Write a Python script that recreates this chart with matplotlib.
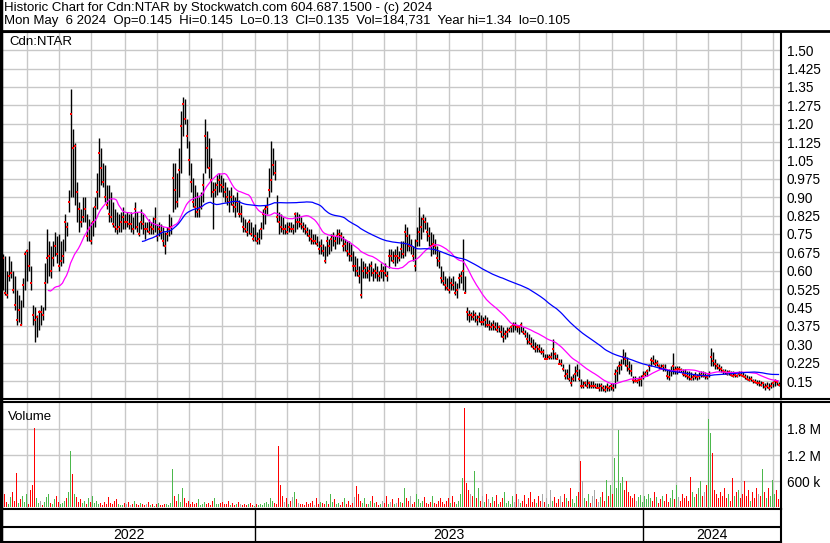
import numpy as np
import pandas as pd
import matplotlib
matplotlib.use("Agg")
import matplotlib.pyplot as plt
from matplotlib.lines import Line2D

plt.rcParams['font.family'] = ['Liberation Sans', 'DejaVu Sans']

# ---- data (one bar per session) ----
hi = [
    .67,.66,.60,.66,.64,.60,.58,.52,.50,.48,
    .57,.68,.69,.72,.62,.46,.45,.42,.44,.46,
    .45,.63,.77,.72,.70,.72,.76,.74,.75,.72,
    .73,.83,.80,.93,1.34,1.18,1.12,.96,.88,.85,
    .90,.90,.83,.81,.80,.86,.90,1.00,1.14,1.10,
    1.04,1.03,.95,.95,.92,.88,.85,.84,.83,.84,
    .86,.83,.84,.83,.84,.82,.88,.84,.80,.85,
    .83,.80,.80,.81,.80,.82,.86,.79,.80,.79,
    .78,.76,.78,.83,.82,1.04,1.04,1.00,1.10,1.25,
    1.31,1.30,1.22,1.13,1.04,.98,.95,.92,.90,.92,
    1.00,1.22,1.17,1.14,1.06,.96,.96,.99,1.00,.99,
    .98,.96,.94,.93,.94,.91,.90,.92,.89,.87,
    .82,.81,.80,.81,.80,.78,.79,.76,.77,.80,
    .85,.87,.90,1.02,1.13,1.10,1.05,.91,.84,.83,
    .82,.79,.80,.80,.80,.79,.84,.84,.83,.82,
    .80,.79,.78,.77,.77,.75,.75,.74,.72,.73,
    .71,.70,.74,.73,.75,.76,.74,.77,.77,.76,
    .74,.73,.72,.72,.71,.68,.66,.65,.62,.65,
    .64,.63,.62,.63,.64,.61,.63,.62,.60,.63,
    .62,.63,.60,.69,.69,.68,.69,.70,.68,.72,
    .72,.79,.78,.75,.73,.70,.73,.78,.86,.82,
    .83,.82,.80,.78,.76,.75,.73,.70,.68,.62,
    .60,.58,.57,.58,.57,.58,.56,.55,.59,.60,
    .73,.58,.45,.44,.43,.44,.43,.42,.43,.42,
    .41,.42,.41,.40,.39,.40,.39,.39,.38,.38,
    .37,.36,.37,.37,.38,.39,.39,.38,.38,.39,
    .37,.36,.35,.34,.33,.32,.31,.30,.30,.29,
    .28,.26,.26,.26,.27,.32,.27,.26,.24,.24,
    .22,.20,.20,.22,.17,.18,.21,.22,.20,.16,
    .15,.15,.16,.15,.15,.15,.14,.14,.14,.14,
    .135,.135,.14,.135,.14,.14,.20,.21,.23,.24,
    .28,.27,.25,.23,.22,.17,.17,.16,.17,.175,
    .19,.19,.20,.22,.25,.255,.24,.235,.22,.22,
    .22,.22,.20,.20,.21,.265,.21,.21,.21,.205,
    .20,.20,.19,.19,.185,.18,.185,.18,.185,.19,
    .19,.185,.18,.19,.285,.27,.24,.225,.22,.21,
    .20,.20,.195,.195,.19,.19,.185,.18,.19,.19,
    .185,.18,.175,.17,.17,.16,.16,.155,.155,.15,
    .145,.14,.145,.14,.145,.15,.16,.155,.145,
]
lo = [
    .52,.50,.49,.56,.57,.51,.44,.38,.39,.38,
    .45,.52,.56,.60,.52,.38,.31,.33,.36,.38,
    .40,.44,.55,.58,.57,.62,.66,.63,.60,.62,
    .63,.68,.74,.84,.90,.90,.87,.80,.76,.78,
    .80,.80,.72,.72,.71,.74,.78,.85,.90,.95,
    .94,.88,.85,.80,.80,.78,.76,.75,.76,.76,
    .77,.77,.78,.77,.76,.75,.77,.76,.74,.77,
    .75,.73,.76,.75,.75,.75,.76,.72,.74,.73,
    .70,.67,.72,.74,.75,.84,.85,.86,.90,1.00,
    1.15,1.20,1.10,.99,.92,.86,.82,.82,.82,.85,
    .88,1.00,1.02,.98,.90,.77,.90,.91,.92,.92,
    .90,.88,.87,.84,.87,.84,.82,.84,.82,.80,
    .76,.76,.74,.75,.74,.72,.72,.71,.71,.73,
    .77,.79,.83,.90,.92,.99,.97,.80,.75,.76,
    .75,.75,.75,.76,.76,.75,.76,.77,.78,.77,
    .76,.75,.74,.72,.71,.71,.71,.70,.67,.67,
    .66,.63,.66,.67,.68,.70,.69,.71,.71,.72,
    .68,.68,.66,.64,.64,.60,.58,.58,.55,.49,
    .57,.57,.57,.56,.58,.56,.57,.56,.56,.57,
    .56,.58,.56,.61,.64,.63,.62,.63,.64,.65,
    .65,.66,.68,.68,.67,.64,.60,.70,.70,.73,
    .76,.77,.72,.70,.66,.67,.67,.62,.61,.55,
    .54,.52,.52,.51,.52,.52,.50,.49,.53,.55,
    .52,.51,.40,.39,.40,.40,.39,.38,.39,.38,
    .38,.37,.37,.36,.36,.36,.36,.35,.35,.33,
    .31,.32,.33,.35,.35,.35,.36,.35,.34,.35,
    .34,.33,.30,.30,.29,.28,.27,.27,.27,.26,
    .25,.24,.24,.24,.24,.24,.24,.24,.22,.21,
    .19,.16,.16,.15,.13,.15,.15,.17,.15,.12,
    .12,.13,.12,.12,.12,.12,.12,.12,.11,.11,
    .11,.105,.11,.11,.115,.11,.12,.15,.18,.195,
    .22,.21,.19,.18,.17,.14,.145,.14,.13,.13,
    .16,.17,.17,.19,.21,.22,.21,.21,.20,.20,
    .19,.19,.16,.155,.17,.18,.18,.18,.185,.185,
    .17,.165,.16,.155,.155,.155,.16,.155,.16,.165,
    .165,.16,.16,.165,.21,.21,.20,.20,.19,.185,
    .18,.18,.175,.175,.17,.165,.165,.165,.17,.17,
    .165,.16,.155,.15,.15,.14,.14,.135,.13,.13,
    .12,.115,.12,.115,.12,.125,.13,.135,.13,
]
cl = [
    .65,.51,.50,.58,.59,.52,.46,.40,.44,.38,
    .54,.67,.68,.62,.55,.42,.40,.41,.43,.43,
    .42,.55,.65,.66,.60,.65,.70,.67,.62,.64,
    .66,.80,.78,.88,1.24,1.10,1.11,.92,.85,.80,
    .82,.85,.74,.77,.72,.80,.86,.92,1.08,1.02,
    .96,.90,.87,.83,.82,.79,.78,.77,.78,.80,
    .82,.80,.80,.79,.79,.77,.85,.78,.75,.80,
    .79,.77,.77,.76,.78,.77,.81,.74,.77,.76,
    .72,.70,.75,.77,.78,.98,.93,.88,1.01,1.19,
    1.28,1.22,1.15,1.05,.96,.88,.86,.84,.85,.86,
    .95,1.15,1.10,1.02,.97,.92,.93,.95,.97,.95,
    .94,.92,.90,.88,.90,.87,.86,.88,.83,.83,
    .78,.77,.76,.80,.75,.73,.74,.72,.73,.77,
    .83,.85,.86,.93,.97,1.03,1.00,.82,.80,.78,
    .77,.77,.76,.78,.77,.77,.83,.80,.80,.79,
    .78,.77,.76,.74,.73,.72,.72,.71,.69,.70,
    .68,.64,.72,.70,.73,.74,.72,.74,.75,.74,
    .70,.71,.68,.67,.66,.62,.62,.60,.58,.50,
    .60,.61,.59,.60,.62,.59,.60,.59,.58,.60,
    .60,.59,.58,.66,.66,.64,.66,.66,.65,.69,
    .67,.76,.74,.70,.70,.66,.62,.72,.76,.78,
    .81,.80,.76,.74,.70,.71,.70,.65,.64,.57,
    .56,.54,.53,.52,.55,.54,.51,.52,.57,.58,
    .60,.51,.43,.42,.42,.41,.42,.40,.41,.39,
    .39,.40,.38,.38,.37,.38,.37,.36,.37,.35,
    .33,.34,.35,.36,.37,.38,.38,.37,.37,.38,
    .35,.34,.32,.31,.30,.29,.28,.29,.28,.27,
    .27,.24,.24,.25,.25,.28,.26,.24,.22,.22,
    .20,.17,.18,.16,.14,.16,.18,.19,.16,.13,
    .13,.14,.13,.14,.13,.13,.13,.12,.12,.13,
    .12,.115,.125,.12,.13,.12,.18,.19,.21,.215,
    .25,.24,.21,.20,.19,.155,.15,.15,.155,.16,
    .17,.18,.19,.21,.235,.23,.22,.225,.21,.205,
    .21,.20,.17,.165,.19,.21,.195,.20,.20,.195,
    .18,.175,.17,.165,.16,.165,.17,.165,.17,.175,
    .17,.17,.165,.18,.25,.23,.22,.21,.205,.20,
    .19,.185,.18,.185,.175,.17,.175,.17,.18,.175,
    .17,.165,.16,.155,.16,.15,.145,.14,.14,.135,
    .14,.125,.13,.12,.13,.14,.15,.145,.135,
]
# volume in millions of shares
vol = [
    .47,.30,.12,.08,.22,.35,.15,.79,.10,.18,
    .25,.12,.30,.08,.40,.50,1.83,.20,.10,.15,
    .05,.12,.22,.30,.10,.08,.18,.25,.12,.06,
    .10,.15,.20,.35,1.29,.76,.30,.22,.12,.18,
    .10,.15,.08,.20,.12,.25,.10,.14,.06,.09,
    .05,.12,.08,.22,.10,.06,.15,.18,.08,.05,
    .04,.10,.06,.12,.05,.08,.15,.07,.05,.10,
    .06,.04,.08,.12,.05,.07,.03,.06,.09,.05,
    .04,.06,.08,.05,.10,.88,.25,.15,.30,.12,
    .45,.20,.10,.15,.08,.12,.06,.10,.18,.05,
    .08,.12,.06,.10,.05,.15,.20,.08,.06,.10,
    .12,.06,.08,.15,.05,.10,.04,.07,.12,.06,
    .05,.08,.04,.06,.10,.05,.03,.07,.04,.06,
    .05,.10,.12,.08,.20,.15,.10,.06,1.41,.50,
    .25,.12,.20,.08,.15,.22,.35,.18,.10,.06,
    .08,.05,.12,.06,.10,.15,.05,.20,.08,.12,
    .10,.06,.15,.08,.30,.12,.18,.07,.10,.05,
    .12,.20,.08,.15,.05,.10,.22,.49,.30,.15,
    .10,.20,.08,.06,.15,.25,.10,.12,.05,.08,
    .15,.10,.25,.08,.12,.18,.06,.10,.20,.12,
    .10,.44,.20,.15,.25,.08,.12,.30,.18,.10,
    .15,.22,.10,.08,.12,.25,.10,.06,.15,.20,
    .12,.08,.15,.20,.10,.25,.12,.08,.15,.30,
    .67,2.29,.55,.40,.30,.25,.83,.20,.43,.15,
    .25,.12,.30,.18,.10,.22,.15,.28,.08,.12,
    .20,.35,.10,.15,.08,.25,.12,.30,.18,.10,
    .15,.28,.08,.20,.35,.12,.18,.10,.25,.15,
    .30,.12,.20,.08,.40,.15,.22,.10,.18,.25,
    .12,.30,.20,.15,.45,.18,.10,.25,.35,1.07,
    .60,.20,.15,.30,.10,.25,.40,.18,.12,.22,
    .35,.15,.63,.25,.50,.30,1.13,.45,1.78,.55,
    .70,.40,.60,.35,.25,.20,.30,.15,.22,.28,
    .12,.25,.18,.30,.20,.15,.35,.22,.10,.18,
    .25,.15,.30,.12,.20,.40,.18,.50,.22,.15,
    .30,.20,.25,.15,.70,.35,.22,.30,.45,.60,
    .25,.35,.50,2.03,1.71,1.25,.40,.30,.20,.35,
    .25,.45,.20,.30,.15,.68,.25,.35,.40,.20,
    .30,.60,.25,.40,.15,.35,.20,.45,.30,.25,
    .88,.35,.20,.45,.25,.63,.30,.40,.18,
]

# month starts and year blocks, in session units
month_starts = [12.25, 28.25, 44.25, 61.25, 77.25, 93.25, 109.75, 126.25,
                142.25, 158.25, 174.75, 190.75, 206.75, 223.25, 239.75, 256.25,
                271.75, 288.25, 304.75, 320.25, 336.75, 352.75, 369.25, 385.25]
year_edges = [126.25, 320.25]
years = ['2022', '2023', '2024']
year_mid = [63.0, 223.25, 354.75]

price_ticks = [0.15 + 0.075 * k for k in range(19)]
price_labels = ['0.15', '0.225', '0.30', '0.375', '0.45', '0.525', '0.60', '0.675',
                '0.75', '0.825', '0.90', '0.975', '1.05', '1.125', '1.20', '1.275',
                '1.35', '1.425', '1.50']
vol_ticks = [0.6, 1.2, 1.8]
vol_labels = ['600 k', '1.2 M', '1.8 M']

hdr1 = "Historic Chart for Cdn:NTAR by Stockwatch.com 604.687.1500 - (c) 2024"
hdr2 = "Mon May  6 2024  Op=0.145  Hi=0.145  Lo=0.13  Cl=0.135  Vol=184,731  Year hi=1.34  lo=0.105"

# ---- figure ----
W, H = 830, 543
fig = plt.figure(figsize=(W / 100, H / 100), dpi=100)


def box(l, t, r, b):
    return [l / W, 1 - b / H, (r - l) / W, (b - t) / H]


def hline(y, x0, x1, lw=1.5):
    fig.add_artist(Line2D([x0 / W, x1 / W], [1 - y / H, 1 - y / H], color='black', lw=lw,
                          transform=fig.transFigure))


x = np.arange(len(cl))
close = pd.Series(cl)
ma_short = close.rolling(24).mean()
ma_long = close.rolling(71).mean()
XL = (-0.25, 389.25)
grid_c = '#c8c8c8'

ax = fig.add_axes(box(2, 32, 781, 399))
ax.set_xlim(*XL)
ax.set_ylim(0.0766, 1.574)
ax.set_yticks(price_ticks)
ax.set_yticklabels(price_labels)
ax.yaxis.tick_right()
ax.tick_params(axis='y', length=0, pad=4, labelsize=9.8)
ax.set_xticks(month_starts)
ax.tick_params(axis='x', length=0, labelbottom=False)
ax.grid(True, color=grid_c, lw=1)
ax.set_axisbelow(True)
ax.vlines(x, lo, hi, color='black', lw=1.0, zorder=2)
ax.scatter(x + 0.3, cl, marker='s', s=1.6, color='red', lw=0, zorder=3)
ax.plot(x, ma_short, color='#ff00ff', lw=0.9, zorder=4)
ax.plot(x, ma_long, color='#0000ff', lw=0.9, zorder=4)
ax.text(0.009, 0.973, 'Cdn:NTAR', transform=ax.transAxes, fontsize=9.5, va='center')

# volume
chg = np.diff(np.array(cl), prepend=cl[0])
vcol = np.where(chg > 0, '#4cb84c', np.where(chg < 0, '#ff0000', '#a8a8a8'))
axv = fig.add_axes(box(2, 402, 781, 509))
axv.set_xlim(*XL)
axv.set_ylim(-0.046, 2.423)
axv.set_yticks(vol_ticks)
axv.set_yticklabels(vol_labels)
axv.yaxis.tick_right()
axv.tick_params(axis='y', length=0, pad=4, labelsize=9.8)
axv.set_xticks(month_starts)
axv.tick_params(axis='x', length=0, labelbottom=False)
axv.grid(True, color=grid_c, lw=1)
axv.set_axisbelow(True)
axv.bar(x, vol, width=0.9, color=vcol, lw=0)
axv.text(0.008, 0.86, 'Volume', transform=axv.transAxes, fontsize=9.5, va='center')

# date band
axd = fig.add_axes(box(2, 509, 781, 542))
axd.set_xlim(*XL)
axd.set_ylim(0, 1)
axd.set_xticks([])
axd.set_yticks([])
axd.axhline(0.455, color='black', lw=1.5)
for e in year_edges:
    axd.axvline(e, color='black', lw=1)
for xm, yr in zip(year_mid, years):
    axd.text(xm, 0.22, yr, ha='center', va='center', fontsize=10.2)

for a in (ax, axv, axd):
    for s in a.spines.values():
        s.set_linewidth(1.5)
        s.set_color('black')

fig.text(4 / W, 1 - 8 / H, hdr1, fontsize=9.5, va='center')
fig.text(4 / W, 1 - 21 / H, hdr2, fontsize=9.5, va='center')
hline(31, 0, W, lw=2)
hline(399, 781, W)
hline(402, 781, W)
fig.add_artist(Line2D([0.5 / W, 0.5 / W], [0, 1], color='black', lw=2.5, transform=fig.transFigure))

fig.savefig('out.png', dpi=100)
